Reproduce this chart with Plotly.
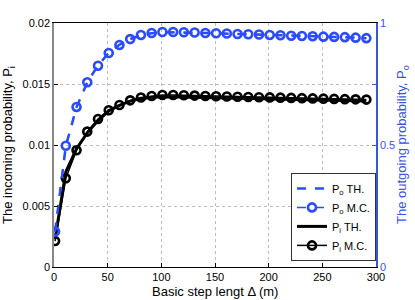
import plotly.graph_objects as go

delta = [1, 11, 21, 31, 41, 51, 61, 71, 81, 91, 101, 111, 121, 131, 141,
         151, 161, 171, 181, 191, 201, 211, 221, 231, 241, 251, 261, 271, 281, 291]

po_mc = [0.145, 0.497, 0.656, 0.757, 0.825, 0.877, 0.910, 0.934, 0.951, 0.959,
         0.963, 0.963, 0.962, 0.961, 0.959, 0.958, 0.957, 0.955, 0.954, 0.953,
         0.951, 0.950, 0.948, 0.947, 0.946, 0.944, 0.943, 0.942, 0.940, 0.938]
po_th = [0.145, 0.495, 0.655, 0.757, 0.826, 0.878, 0.911, 0.934, 0.950, 0.958,
         0.962, 0.962, 0.961, 0.960, 0.959, 0.958, 0.956, 0.955, 0.954, 0.952,
         0.951, 0.950, 0.948, 0.947, 0.946, 0.944, 0.943, 0.942, 0.940, 0.938]

pi_mc = [0.00213, 0.00727, 0.00957, 0.0111, 0.01213, 0.01285, 0.01328, 0.01366,
         0.01389, 0.01402, 0.0141, 0.0141, 0.01408, 0.01405, 0.01402, 0.0140,
         0.01398, 0.01396, 0.01394, 0.01392, 0.0139, 0.01388, 0.01386, 0.01384,
         0.01382, 0.0138, 0.01378, 0.01376, 0.01374, 0.01372]
pi_th = [0.0023, 0.0078, 0.0097, 0.0110, 0.0120, 0.0128, 0.01325, 0.0136,
         0.0138, 0.01392, 0.01396, 0.01396, 0.01394, 0.01392, 0.0139, 0.01388,
         0.01386, 0.01384, 0.01382, 0.0138, 0.01378, 0.01376, 0.01374, 0.01372,
         0.0137, 0.01368, 0.01366, 0.01364, 0.01362, 0.0136]

BLUE = "#2b4bff"
AXBLUE = "#3a55d8"
FONT = "Liberation Sans, Arial, sans-serif"

fig = go.Figure()
fig.add_trace(go.Scatter(x=delta, y=po_th, yaxis="y2", mode="lines",
                         name="P<sub>o</sub> TH.",
                         line=dict(color=BLUE, width=2.5, dash="dash")))
fig.add_trace(go.Scatter(x=delta, y=po_mc, yaxis="y2", mode="lines+markers",
                         name="P<sub>o</sub> M.C.",
                         line=dict(color=BLUE, width=1.5, dash="dash"),
                         marker=dict(symbol="circle-open", size=8, color=BLUE,
                                     line=dict(width=2.6, color=BLUE))))
fig.add_trace(go.Scatter(x=delta, y=pi_th, mode="lines",
                         name="P<sub>i</sub> TH.",
                         line=dict(color="black", width=3)))
fig.add_trace(go.Scatter(x=delta, y=pi_mc, mode="lines+markers",
                         name="P<sub>i</sub> M.C.",
                         line=dict(color="black", width=1.5),
                         marker=dict(symbol="circle-open", size=8, color="black",
                                     line=dict(width=2.6, color="black"))))

fig.update_layout(
    width=415, height=300,
    margin=dict(l=54, r=39, t=23, b=33, autoexpand=False),
    paper_bgcolor="white", plot_bgcolor="white",
    font=dict(family=FONT, size=11, color="black"),
    showlegend=True,
    legend=dict(x=1, xanchor="right", y=0.025, yanchor="bottom",
                bgcolor="white", bordercolor="#333", borderwidth=1,
                font=dict(size=11), tracegroupgap=0),
    xaxis=dict(range=[0, 300], tickvals=[0, 50, 100, 150, 200, 250, 300],
               showgrid=True, gridcolor="#bdbdbd", griddash="dot", gridwidth=1,
               showline=True, linecolor="black", linewidth=1, mirror=True,
               ticks="inside", ticklen=4, tickcolor="black",
               zeroline=False, automargin=False),
    yaxis=dict(range=[0, 0.02], tickvals=[0, 0.005, 0.01, 0.015, 0.02],
               ticktext=["0", "0.005", "0.01", "0.015", "0.02"],
               showgrid=True, gridcolor="#bdbdbd", griddash="dot", gridwidth=1,
               showline=True, linecolor="#888888", linewidth=1.5,
               ticks="inside", ticklen=4, tickcolor="black",
               zeroline=False, automargin=False),
    yaxis2=dict(range=[0, 1], overlaying="y", side="right",
                tickvals=[0, 0.25, 0.5, 0.75, 1],
                ticktext=["0", "", "0.5", "", "1"],
                showgrid=False, zeroline=False, automargin=False,
                showline=True, linecolor=AXBLUE, linewidth=1.5,
                ticks="inside", ticklen=4, tickcolor=AXBLUE,
                tickfont=dict(color=AXBLUE)),
    annotations=[
        dict(text="The incoming probability, P<sub>i</sub>", textangle=-90,
             xref="paper", yref="paper", x=0, y=0.5, xanchor="center",
             yanchor="middle", xshift=-46, showarrow=False,
             font=dict(size=13, color="black")),
        dict(text="The outgoing probability, P<sub>o</sub>", textangle=-90,
             xref="paper", yref="paper", x=1, y=0.5, xanchor="center",
             yanchor="middle", xshift=26, showarrow=False,
             font=dict(size=13, color=AXBLUE)),
        dict(text="Basic step lengt Δ (m)",
             xref="paper", yref="paper", x=0.5, y=0, xanchor="center",
             yanchor="middle", yshift=-24, showarrow=False,
             font=dict(size=13, color="black")),
    ],
)

fig.write_html("out.html", config={"displayModeBar": False},
               post_script="document.body.style.margin='0px';")
